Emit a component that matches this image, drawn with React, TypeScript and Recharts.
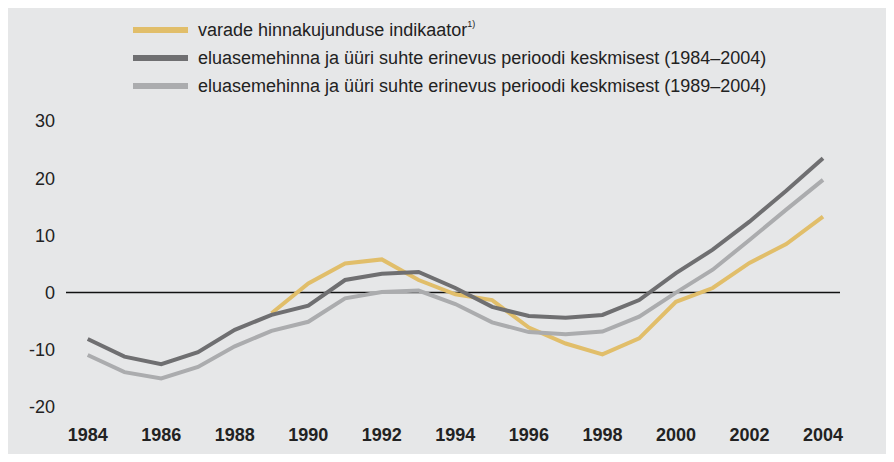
import React from "react";
import {
  LineChart,
  Line,
  XAxis,
  YAxis,
  CartesianGrid,
  ReferenceLine,
} from "recharts";

const years = [
  1984, 1985, 1986, 1987, 1988, 1989, 1990, 1991, 1992, 1993, 1994, 1995,
  1996, 1997, 1998, 1999, 2000, 2001, 2002, 2003, 2004,
];

// varade hinnakujunduse indikaator (from 1989)
const assetIndicator = [
  null, null, null, null, null, -3.6, 1.6, 5.1, 5.8, 2.2, -0.3, -1.3, -6.1,
  -8.9, -10.8, -8.0, -1.6, 0.8, 5.2, 8.5, 13.3,
];

// eluasemehinna ja üüri suhe (1984–2004)
const ratio8404 = [
  -8.1, -11.2, -12.5, -10.4, -6.5, -3.9, -2.3, 2.2, 3.3, 3.6, 0.8, -2.5, -4.1,
  -4.4, -3.9, -1.3, 3.4, 7.5, 12.4, 17.8, 23.5,
];

// eluasemehinna ja üüri suhe (1989–2004)
const ratio8904 = [
  -10.9, -13.9, -15.0, -13.0, -9.4, -6.7, -5.1, -1.0, 0.1, 0.35, -2.0, -5.2,
  -6.9, -7.3, -6.8, -4.2, 0.0, 4.0, 9.2, 14.5, 19.7,
];

const yTicks = [-20, -10, 0, 10, 20, 30];

const legendItems = [
  { label: "varade hinnakujunduse indikaator", sup: "1)", color: "#E1BE6A" },
  {
    label: "eluasemehinna ja üüri suhte erinevus perioodi keskmisest (1984–2004)",
    color: "#6F6F71",
  },
  {
    label: "eluasemehinna ja üüri suhte erinevus perioodi keskmisest (1989–2004)",
    color: "#ABACAE",
  },
];

const data = years.map((year, i) => ({
  year,
  asset: assetIndicator[i],
  r1: ratio8404[i],
  r2: ratio8904[i],
}));

const font = "'Liberation Sans', Arial, sans-serif";

const RightTick = (props: any) => {
  const { x, y, payload } = props;
  return (
    <text
      x={x + 39}
      y={y}
      dy="0.355em"
      textAnchor="end"
      fill="#222"
      fontSize={18}
      fontFamily={font}
    >
      {payload.value}
    </text>
  );
};

const App = () => {
  return (
    <div
      style={{
        position: "relative",
        width: 894,
        height: 462,
        margin: -8,
        fontFamily: font,
      }}
    >
      <div
        style={{
          position: "absolute",
          left: 6,
          top: 8,
          right: 0,
          bottom: 0,
          background: "#E6E7E8",
        }}
      />
      <div style={{ position: "absolute", left: 133, top: 16 }}>
        {legendItems.map((item) => (
          <div
            key={item.label}
            style={{ display: "flex", alignItems: "center", height: 28 }}
          >
            <span
              style={{
                display: "inline-block",
                width: 55,
                height: 6,
                background: item.color,
                marginRight: 10,
              }}
            />
            <span style={{ fontSize: 18, color: "#222", whiteSpace: "nowrap" }}>
              {item.label}
              {item.sup && (
                <sup style={{ fontSize: 9, verticalAlign: "top", lineHeight: 1 }}>
                  {item.sup}
                </sup>
              )}
            </span>
          </div>
        ))}
      </div>
      <LineChart
        width={894}
        height={462}
        data={data}
        margin={{ top: 121, right: 0, bottom: 15, left: 6 }}
        style={{ position: "absolute", left: 0, top: 0 }}
      >
        <CartesianGrid
          vertical={false}
          stroke="#FFFFFF"
          strokeWidth={1.5}
          horizontalValues={yTicks}
        />
        <XAxis
          dataKey="year"
          axisLine={false}
          tickLine={false}
          tickSize={0}
          tickMargin={21}
          interval={1}
          height={40}
          padding={{ left: 21.7, right: 17 }}
          tick={{ fill: "#222", fontSize: 18, fontWeight: "bold", fontFamily: font }}
        />
        <YAxis
          yAxisId="left"
          domain={[-20, 30]}
          ticks={yTicks}
          width={60}
          axisLine={false}
          tickLine={false}
          tickSize={0}
          tickMargin={11}
          tick={{ fill: "#222", fontSize: 18, fontFamily: font }}
        />
        <YAxis
          yAxisId="right"
          orientation="right"
          domain={[-20, 30]}
          ticks={yTicks}
          width={54}
          axisLine={false}
          tickLine={false}
          tickSize={0}
          tickMargin={0}
          tick={<RightTick />}
        />
        <ReferenceLine yAxisId="left" y={0} stroke="#111" strokeWidth={1.5} />
        <Line
          yAxisId="left"
          type="linear"
          dataKey="asset"
          stroke="#E1BE6A"
          strokeWidth={4}
          dot={false}
          isAnimationActive={false}
        />
        <Line
          yAxisId="left"
          type="linear"
          dataKey="r2"
          stroke="#ABACAE"
          strokeWidth={4}
          dot={false}
          isAnimationActive={false}
        />
        <Line
          yAxisId="left"
          type="linear"
          dataKey="r1"
          stroke="#6F6F71"
          strokeWidth={4}
          dot={false}
          isAnimationActive={false}
        />
      </LineChart>
    </div>
  );
};

export default App;
